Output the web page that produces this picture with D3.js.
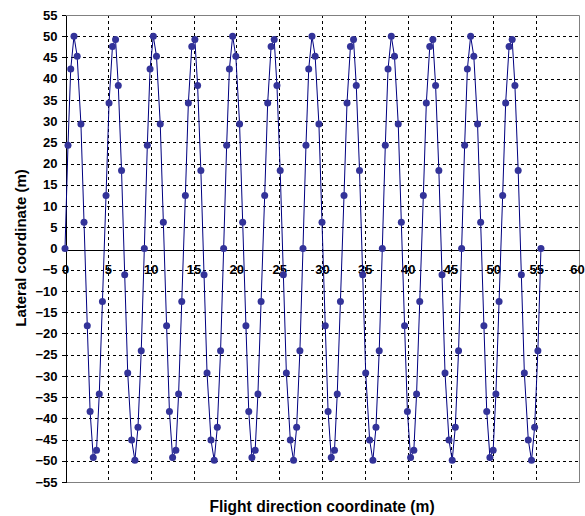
<!DOCTYPE html>
<html>
  <head>
    <meta charset="utf-8">
    <script src="https://d3js.org/d3.v7.min.js"></script>
    <style>
      body {
        margin: 0;
        background: white;
      }

      .axis text {
        font-family: "Liberation Sans", Arial, sans-serif;
        font-size: 13px;
        font-weight: bold;
        fill: black;
      }

      .grid line {
        stroke: black;
        stroke-width: 1px;
        stroke-dasharray: 3,3;
        shape-rendering: crispEdges;
      }

      .title {
        font-family: "Liberation Sans", Arial, sans-serif;
        font-weight: bold;
        fill: black;
      }
    </style>
  </head>
  <body>
    <div id="chartcontainer"></div>

    <script type="text/javascript">
      // sampled flight path, flight direction (m)
      var flightX = [
        0, 0.35, 0.67, 1.05, 1.42, 1.86, 2.22, 2.6, 2.93, 3.3, 3.68, 4.0, 4.37, 4.79, 5.14, 5.54, 5.9, 6.22, 6.6, 6.97, 7.32, 7.78, 8.16, 8.52, 8.9,
        9.26, 9.61, 9.93, 10.31, 10.68, 11.12, 11.48, 11.86, 12.19, 12.56, 12.94, 13.26, 13.63, 14.05, 14.4, 14.8, 15.16, 15.48, 15.86, 16.23, 16.58, 17.04, 17.42, 17.78, 18.16,
        18.52, 18.87, 19.19, 19.57, 19.94, 20.38, 20.74, 21.12, 21.45, 21.82, 22.2, 22.52, 22.89, 23.31, 23.66, 24.06, 24.42, 24.74, 25.12, 25.49, 25.84, 26.3, 26.68, 27.04, 27.42,
        27.78, 28.13, 28.45, 28.83, 29.2, 29.64, 30.0, 30.38, 30.71, 31.08, 31.46, 31.78, 32.15, 32.57, 32.92, 33.32, 33.68, 34.0, 34.38, 34.75, 35.1, 35.56, 35.94, 36.3, 36.68,
        37.04, 37.39, 37.71, 38.09, 38.46, 38.9, 39.26, 39.64, 39.97, 40.34, 40.72, 41.04, 41.41, 41.83, 42.18, 42.58, 42.94, 43.26, 43.64, 44.01, 44.36, 44.82, 45.2, 45.56, 45.94,
        46.3, 46.65, 46.97, 47.35, 47.72, 48.16, 48.52, 48.9, 49.23, 49.6, 49.98, 50.3, 50.67, 51.09, 51.44, 51.84, 52.2, 52.52, 52.9, 53.27, 53.62, 54.08, 54.46, 54.82, 55.2,
        55.56
      ];

      // lateral coordinate (m) at each sample
      var lateralY = [
        0, 24.3, 42.3, 50, 45.3, 29.3, 6.2, -18.2, -38.4, -49.2, -47.5, -34.3, -12.5, 12.5, 34.3, 47.6, 49.2, 38.4, 18.4, -6.2, -29.3, -45.1, -49.9, -42.1, -24.1,
        0, 24.3, 42.3, 50, 45.3, 29.3, 6.2, -18.2, -38.4, -49.2, -47.5, -34.3, -12.5, 12.5, 34.3, 47.6, 49.2, 38.4, 18.4, -6.2, -29.3, -45.1, -49.9, -42.1, -24.1,
        0, 24.3, 42.3, 50, 45.3, 29.3, 6.2, -18.2, -38.4, -49.2, -47.5, -34.3, -12.5, 12.5, 34.3, 47.6, 49.2, 38.4, 18.4, -6.2, -29.3, -45.1, -49.9, -42.1, -24.1,
        0, 24.3, 42.3, 50, 45.3, 29.3, 6.2, -18.2, -38.4, -49.2, -47.5, -34.3, -12.5, 12.5, 34.3, 47.6, 49.2, 38.4, 18.4, -6.2, -29.3, -45.1, -49.9, -42.1, -24.1,
        0, 24.3, 42.3, 50, 45.3, 29.3, 6.2, -18.2, -38.4, -49.2, -47.5, -34.3, -12.5, 12.5, 34.3, 47.6, 49.2, 38.4, 18.4, -6.2, -29.3, -45.1, -49.9, -42.1, -24.1,
        0, 24.3, 42.3, 50, 45.3, 29.3, 6.2, -18.2, -38.4, -49.2, -47.5, -34.3, -12.5, 12.5, 34.3, 47.6, 49.2, 38.4, 18.4, -6.2, -29.3, -45.1, -49.9, -42.1, -24.1,
        0
      ];

      // tick labels
      var xTicks = [0, 5, 10, 15, 20, 25, 30, 35, 40, 45, 50, 55, 60];
      var yTicks = [-55, -50, -45, -40, -35, -30, -25, -20, -15, -10, -5, 0, 5, 10, 15, 20, 25, 30, 35, 40, 45, 50, 55];

      function draw() {
          var data = flightX.map(function(d, i) { return {x: d, y: lateralY[i]}; });

          var width = 585, height = 516;
          var plotLeft = 65, plotRight = 579, plotTop = 15, plotBottom = 482;

          var svg = d3.select("#chartcontainer").append("svg")
              .attr("width", width)
              .attr("height", height);

          var x = d3.scaleLinear().domain([0, 60]).range([plotLeft, plotRight]);
          var y = d3.scaleLinear().domain([-55, 55]).range([plotBottom, plotTop]);

          // dashed grid
          var grid = svg.append("g").attr("class", "grid");
          grid.selectAll(".hgrid")
              .data(yTicks.filter(function(d) { return d != 0 && Math.abs(d) != 55; }))
              .enter().append("line")
              .attr("x1", plotLeft).attr("x2", plotRight)
              .attr("y1", function(d) { return Math.round(y(d)) + 0.5; })
              .attr("y2", function(d) { return Math.round(y(d)) + 0.5; });
          grid.selectAll(".vgrid")
              .data(xTicks.filter(function(d) { return d != 0 && d != 60; }))
              .enter().append("line")
              .attr("y1", plotTop).attr("y2", plotBottom)
              .attr("x1", function(d) { return Math.round(x(d)) + 0.5; })
              .attr("x2", function(d) { return Math.round(x(d)) + 0.5; });

          // grey plot border (top, right, bottom)
          svg.append("path")
             .attr("d", "M" + plotLeft + "," + (plotTop + 0.5) + "H" + (plotRight + 0.5) +
                        "V" + (plotBottom + 0.5) + "H" + plotLeft)
             .attr("fill", "none")
             .attr("stroke", "#808080")
             .attr("stroke-width", 1);

          // y axis
          var yAxis = svg.append("g")
              .attr("class", "axis")
              .attr("transform", "translate(" + (plotLeft + 0.5) + ",0)")
              .call(d3.axisLeft(y).tickValues(yTicks).tickSize(4).tickSizeOuter(0).tickPadding(4));
          yAxis.selectAll("path, line").attr("stroke", "black").attr("shape-rendering", "crispEdges");

          // x axis along lateral = 0
          var xAxis = svg.append("g")
              .attr("class", "axis")
              .attr("transform", "translate(0," + (Math.round(y(0)) + 0.5) + ")")
              .call(d3.axisBottom(x).tickValues(xTicks).tickSize(0).tickPadding(15));
          xAxis.select(".domain").attr("stroke", "black").attr("shape-rendering", "crispEdges");
          // last label sits against the right edge
          xAxis.selectAll(".tick text").filter(function(d) { return d == 60; }).attr("dx", "-2");

          // flight path line
          var line = d3.line()
              .x(function(d) { return x(d.x); })
              .y(function(d) { return y(d.y); });

          svg.append("path")
             .datum(data)
             .attr("d", line)
             .attr("fill", "none")
             .attr("stroke", "#000080")
             .attr("stroke-width", 1);

          // sample markers
          svg.selectAll(".dot")
             .data(data)
             .enter().append("circle")
             .attr("class", "dot")
             .attr("cx", function(d) { return x(d.x); })
             .attr("cy", function(d) { return y(d.y); })
             .attr("r", 3.5)
             .attr("fill", "#333399");

          // axis titles
          svg.append("text")
             .attr("class", "title")
             .attr("x", 322)
             .attr("y", 512)
             .attr("text-anchor", "middle")
             .style("font-size", "15.6px")
             .text("Flight direction coordinate (m)");

          svg.append("text")
             .attr("class", "title")
             .attr("transform", "translate(26,248) rotate(-90)")
             .attr("text-anchor", "middle")
             .style("font-size", "15px")
             .text("Lateral coordinate (m)");
      }

      draw();
    </script>
  </body>
</html>
